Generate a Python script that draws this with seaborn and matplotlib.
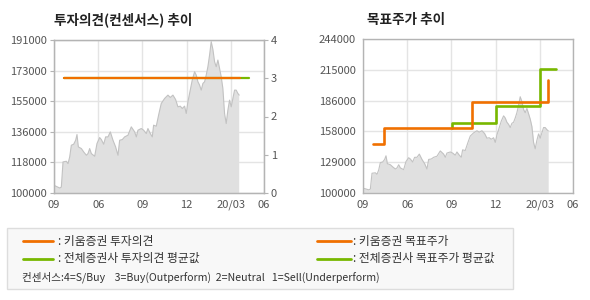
import numpy as np
import pandas as pd
import matplotlib
matplotlib.use("Agg")
import matplotlib.pyplot as plt
from matplotlib.lines import Line2D
from matplotlib.patches import Rectangle
import seaborn as sns

sns.set_style("white")
plt.rcParams['font.family'] = ['Noto Sans CJK KR', 'DejaVu Sans']

# ---------------- data ----------------
x_tick_labels = ["09", "06", "09", "12", "20/03", "06"]
x_tick_pos = [0, 1, 2, 3, 4, 4.75]

left_y_labels = ["100000", "118000", "136000", "155000", "173000", "191000"]
right_y_labels = ["100000", "129000", "158000", "186000", "215000", "244000"]
opinion_ticks = [0, 1, 2, 3, 4]

price_t = [0.0, 0.129, 0.166, 0.204, 0.279, 0.317, 0.355, 0.392, 0.445, 0.490,
           0.520, 0.551, 0.619, 0.671, 0.732, 0.769, 0.807, 0.845, 0.920, 0.972,
           1.033, 1.071, 1.123, 1.168, 1.221, 1.274, 1.334, 1.394, 1.447, 1.485,
           1.545, 1.598, 1.673, 1.748, 1.824, 1.862, 1.899, 1.974, 2.027, 2.087,
           2.125, 2.178, 2.223, 2.253, 2.313, 2.374, 2.426, 2.502, 2.577, 2.630,
           2.690, 2.750, 2.803, 2.856, 2.901, 2.954, 2.991, 3.029, 3.082, 3.127,
           3.180, 3.217, 3.255, 3.293, 3.330, 3.368, 3.406, 3.443, 3.481, 3.519,
           3.556, 3.594, 3.632, 3.669, 3.707, 3.745, 3.782, 3.820, 3.858, 3.895,
           3.933, 3.971, 4.008, 4.046, 4.084, 4.121, 4.159, 4.189]
price_values = [104570, 102980, 103580, 118480, 118880, 117490, 121460, 128410, 129010, 131390,
                134770, 127420, 126430, 124440, 122450, 123450, 126430, 123450, 121860, 129410,
                132980, 131790, 129010, 133380, 133380, 136360, 131390, 127420, 122450, 131390,
                131790, 133380, 134380, 139340, 136360, 133380, 137360, 138350, 137360, 135370,
                138350, 135370, 133380, 140340, 139740, 147290, 153250, 156230, 158220, 156830,
                158220, 155640, 151270, 151660, 150270, 151660, 147290, 154240, 161200, 167160,
                172130, 170140, 166170, 164180, 161200, 165170, 166170, 170140, 175110, 182060,
                190010, 185440, 178090, 175110, 179080, 174110, 169150, 162190, 147290, 141330,
                149280, 155240, 151270, 156230, 161200, 161200, 159210, 158220]

kiwoom_opinion_t = [0.23, 4.2]
kiwoom_opinion = [3, 3]
avg_opinion_t = [0.23, 4.4]
avg_opinion = [3, 3]

kiwoom_target_t = [0.22, 0.47, 2.47, 4.18]
kiwoom_target = [146000, 160500, 185000, 205500]
avg_target_t = [2.02, 2.02, 3.01, 4.0, 4.36]
avg_target = [160500, 165500, 181000, 215500, 215500]

ORANGE = "#f07000"
GREEN = "#78b800"
GRID = "#e4e4e4"
SPINE = "#b4b4b4"
TXT = "#555555"
TICK_FS = 8

fig = plt.figure(figsize=(5.9, 3.0), dpi=100)
fig.patch.set_facecolor("white")


def style_axes(ax, ymin, ymax, ylabels):
    ax.set_xlim(0, 4.75)
    ax.set_ylim(ymin, ymax)
    ax.set_xticks(x_tick_pos)
    ax.set_xticklabels(x_tick_labels)
    ax.set_yticks(np.linspace(ymin, ymax, len(ylabels)))
    ax.set_yticklabels(ylabels)
    ax.grid(True, color=GRID, linewidth=1.0)
    ax.set_axisbelow(True)
    for s in ax.spines.values():
        s.set_color(SPINE)
        s.set_linewidth(1.0)
    ax.tick_params(axis="both", colors=SPINE, labelcolor=TXT, labelsize=TICK_FS,
                   length=3, width=0.8, pad=2, direction="out")
    ax.set_xlabel("")
    ax.set_ylabel("")


def draw_price(ax):
    ax.fill_between(price_t, price_values, 0, color="#e0e0e0", linewidth=0, zorder=1)
    sns.lineplot(x=price_t, y=price_values, ax=ax, color="#c2c2c2", linewidth=0.8,
                 estimator=None, sort=False, zorder=2)


# ---------- left chart ----------
axL = fig.add_axes([54 / 590, 1 - 193 / 300, 210 / 590, 153 / 300])
draw_price(axL)
style_axes(axL, 100000, 191000, left_y_labels)
axR = axL.twinx()
sns.lineplot(x=avg_opinion_t, y=avg_opinion, ax=axR, color=GREEN, linewidth=1.6,
             estimator=None, sort=False)
sns.lineplot(x=kiwoom_opinion_t, y=kiwoom_opinion, ax=axR, color=ORANGE, linewidth=1.6,
             estimator=None, sort=False)
axR.set_ylim(0, 4)
axR.set_yticks(opinion_ticks)
axR.set_xlim(0, 4.75)
axR.set_ylabel("")
for s in axR.spines.values():
    s.set_color(SPINE)
axR.tick_params(axis="y", colors=SPINE, labelcolor=TXT, labelsize=TICK_FS, length=3,
                width=0.8, pad=2)
axR.grid(False)
fig.text(54 / 590, 1 - 20 / 300, "투자의견(컨센서스) 추이", fontsize=9.8, fontweight="bold",
         color="#222222", ha="left", va="center")

# ---------- right chart ----------
axT = fig.add_axes([363 / 590, 1 - 193 / 300, 210 / 590, 154 / 300])
draw_price(axT)
sns.lineplot(x=avg_target_t, y=avg_target, ax=axT, color=GREEN, linewidth=1.9,
             estimator=None, sort=False, drawstyle="steps-post")
sns.lineplot(x=kiwoom_target_t, y=kiwoom_target, ax=axT, color=ORANGE, linewidth=1.9,
             estimator=None, sort=False, drawstyle="steps-post")
style_axes(axT, 100000, 244000, right_y_labels)
fig.text(367 / 590, 1 - 20 / 300, "목표주가 추이", fontsize=9.8, fontweight="bold",
         color="#222222", ha="left", va="center")

# ---------- legend box ----------
fig.add_artist(Rectangle((7 / 590, 1 - 289 / 300), 506 / 590, 61 / 300,
                         transform=fig.transFigure, facecolor="#f8f8f8",
                         edgecolor="#dddddd", linewidth=1.0))
legend_rows = [
    (23, 53, 58, 241, ORANGE, ": 키움증권 투자의견"),
    (23, 53, 58, 258.5, GREEN, ": 전체증권사 투자의견 평균값"),
    (317, 351, 353, 241, ORANGE, ": 키움증권 목표주가"),
    (317, 351, 353, 258.5, GREEN, ": 전체증권사 목표주가 평균값"),
]
for x0, x1, xt, yy, col, label in legend_rows:
    fig.add_artist(Line2D([x0 / 590, x1 / 590], [1 - yy / 300, 1 - yy / 300],
                          transform=fig.transFigure, color=col, linewidth=2.0))
    fig.text(xt / 590, 1 - yy / 300, label, fontsize=8.5, color="#333333",
             ha="left", va="center")
fig.text(22 / 590, 1 - 277.5 / 300,
         "컨센서스:4=S/Buy    3=Buy(Outperform)  2=Neutral   1=Sell(Underperform)",
         fontsize=7.6, color="#333333", ha="left", va="center")

fig.savefig("out.png", dpi=100, facecolor="white")
